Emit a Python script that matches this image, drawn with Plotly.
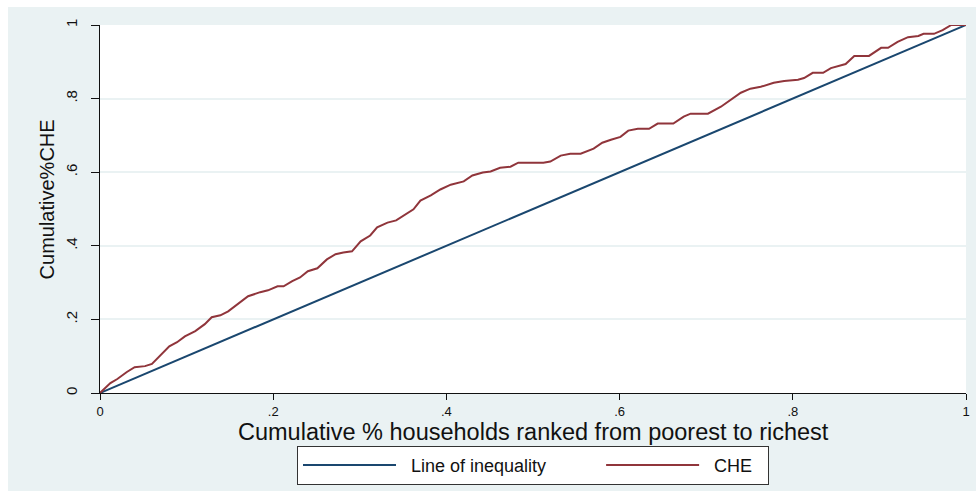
import plotly.graph_objects as go

# Data: cumulative share of households (x) vs cumulative share of CHE (y)
equality_x = [0.0, 1.0]
equality_y = [0.0, 1.0]

che_x = [0.0, 0.012, 0.020, 0.031, 0.040, 0.052, 0.060, 0.069, 0.080, 0.089,
         0.098, 0.110, 0.121, 0.129, 0.139, 0.148, 0.164, 0.171, 0.185, 0.194,
         0.205, 0.212, 0.222, 0.231, 0.240, 0.251, 0.262, 0.272, 0.281, 0.291,
         0.301, 0.312, 0.320, 0.332, 0.342, 0.353, 0.362, 0.370, 0.382, 0.393,
         0.405, 0.420, 0.430, 0.442, 0.451, 0.462, 0.474, 0.483, 0.512, 0.520,
         0.532, 0.543, 0.555, 0.570, 0.580, 0.590, 0.601, 0.610, 0.621, 0.634,
         0.644, 0.662, 0.674, 0.682, 0.702, 0.717, 0.731, 0.740, 0.751, 0.763,
         0.778, 0.790, 0.806, 0.813, 0.823, 0.835, 0.844, 0.861, 0.871, 0.888,
         0.902, 0.910, 0.921, 0.933, 0.945, 0.951, 0.963, 0.973, 0.983, 1.0]
che_y = [0.0, 0.027, 0.038, 0.057, 0.070, 0.073, 0.079, 0.100, 0.127, 0.138,
         0.154, 0.168, 0.187, 0.206, 0.211, 0.222, 0.252, 0.263, 0.274, 0.279,
         0.290, 0.290, 0.304, 0.314, 0.331, 0.339, 0.363, 0.377, 0.382, 0.385,
         0.412, 0.428, 0.450, 0.463, 0.469, 0.485, 0.499, 0.523, 0.537, 0.553,
         0.566, 0.575, 0.591, 0.599, 0.602, 0.612, 0.615, 0.626, 0.626, 0.629,
         0.645, 0.650, 0.650, 0.664, 0.680, 0.688, 0.696, 0.713, 0.718, 0.718,
         0.732, 0.732, 0.751, 0.759, 0.759, 0.778, 0.802, 0.816, 0.827, 0.832,
         0.843, 0.848, 0.851, 0.856, 0.870, 0.870, 0.883, 0.894, 0.916, 0.916,
         0.938, 0.938, 0.954, 0.967, 0.970, 0.976, 0.976, 0.986, 1.0, 1.0]

tick_vals = [0, 0.2, 0.4, 0.6, 0.8, 1]
tick_text = ["0", ".2", ".4", ".6", ".8", "1"]

x_title = "Cumulative % households ranked from poorest to richest"
y_title = "Cumulative%CHE"
series_names = ["Line of inequality", "CHE"]

BLUE = "#1a476f"
RED = "#90353b"
BG = "#eaf2f3"
FONT = "Liberation Sans, Arial, sans-serif"
NB = "\u00a0"

fig = go.Figure()
fig.add_trace(go.Scatter(x=equality_x, y=equality_y, mode="lines",
                         name=NB * 2 + series_names[0] + NB * 10,
                         line=dict(color=BLUE, width=2)))
fig.add_trace(go.Scatter(x=che_x, y=che_y, mode="lines",
                         name=NB * 2 + series_names[1] + NB * 2,
                         line=dict(color=RED, width=2)))

fig.update_layout(
    width=976, height=491,
    margin=dict(l=100, r=6, t=25, b=97),
    paper_bgcolor=BG, plot_bgcolor="white",
    font=dict(family=FONT, color="#111111"),
    showlegend=True,
    legend=dict(orientation="h", x=0.5, xanchor="center",
                y=-0.1436, yanchor="top",
                bgcolor="white", bordercolor="#333333", borderwidth=1,
                font=dict(size=18, family=FONT),
                itemwidth=93, traceorder="normal"),
    shapes=[
        dict(type="rect", xref="paper", yref="paper", x0=-0.2, x1=1.2,
             y0=1.0488, y1=1.2, fillcolor="white", line=dict(width=0),
             layer="below"),
        dict(type="rect", xref="paper", yref="paper", x0=-0.2, x1=-0.1062,
             y0=-0.4, y1=1.2, fillcolor="white", line=dict(width=0),
             layer="below"),
    ],
    annotations=[
        dict(text=x_title, xref="paper", yref="paper", x=0.5, y=-0.1057,
             xanchor="center", yanchor="middle", showarrow=False,
             font=dict(size=23.5, family=FONT, color="#111111")),
        dict(text=y_title, xref="paper", yref="paper", x=-0.0612, y=0.526,
             xanchor="center", yanchor="middle", showarrow=False, textangle=-90,
             font=dict(size=20, family=FONT, color="#111111")),
    ],
)

fig.update_xaxes(range=[0, 1], tickvals=tick_vals, ticktext=tick_text,
                 showgrid=False, zeroline=False, showline=True,
                 linecolor="#111111", linewidth=1, ticks="outside", ticklen=6,
                 tickcolor="#111111", tickfont=dict(size=13, family=FONT),
                 fixedrange=True)
fig.update_yaxes(range=[0, 1], tickvals=tick_vals, ticktext=tick_text,
                 showgrid=True, gridcolor=BG, gridwidth=1.5, zeroline=False,
                 showline=True, linecolor="#111111", linewidth=1,
                 ticks="outside", ticklen=8, tickcolor="#111111",
                 tickangle=-90, ticklabelstandoff=8,
                 tickfont=dict(size=15, family=FONT),
                 fixedrange=True)

fig.write_html("out.html")
